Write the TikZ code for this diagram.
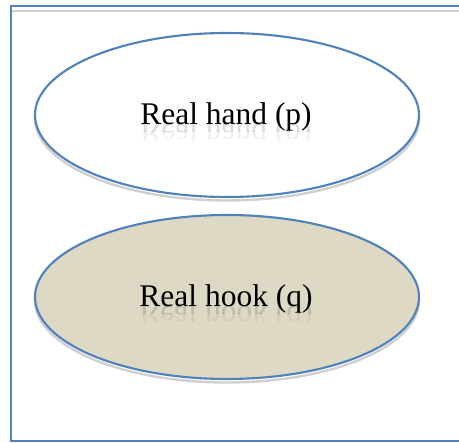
\documentclass[tikz,border=0pt]{standalone}
\usepackage{fontspec}
\setmainfont{Liberation Serif}
\definecolor{frameblue}{RGB}{79,129,189}
\definecolor{shadowgrey}{RGB}{208,208,208}
\definecolor{tanfill}{RGB}{221,217,196}
\tikzset{
  outline/.style={draw=frameblue, line width=2.1pt},
  dropshade/.style={draw=shadowgrey, line width=2.4pt},
  label/.style={font=\fontsize{31.5}{37}\selectfont, inner sep=0pt, anchor=base},
  mirror/.style={label, yscale=-1, text=black, text opacity=#1},
}
% faint reflection under a label: two bands whose opacity falls off downwards
\newcommand{\reflection}[2]{%
  \begin{scope}
    \clip ($(#1)+(-100,0)$) rectangle ($(#1)+(100,7)$);
    \node[mirror=0.13] at (#1) {#2};
  \end{scope}
  \begin{scope}
    \clip ($(#1)+(-100,7)$) rectangle ($(#1)+(100,15)$);
    \node[mirror=0.06] at (#1) {#2};
  \end{scope}}
\usetikzlibrary{calc}
\begin{document}
\begin{tikzpicture}[x=1pt, y=-1pt]
  \useasboundingbox (0,0) rectangle (459,443);
  \begin{scope}
    \clip (0,0) rectangle (459,443);
    % outer frame, open to the right
    \draw[shadowgrey, line width=1.8pt] (12,11) -- (470,11);
    \draw[outline] (470,6) -- (11,6) -- (11,441) -- (470,441);
  \end{scope}

  % first ellipse
  \draw[dropshade] (227,118.5) ellipse [x radius=192, y radius=82];
  \draw[outline, fill=white] (227,115) ellipse [x radius=192, y radius=82];
  \coordinate (pbase) at (226,125);
  \reflection{pbase}{Real hand (p)}
  \node[label] (phand) at (pbase) {Real hand (p)};

  % second ellipse
  \draw[dropshade] (227,300.5) ellipse [x radius=192, y radius=82];
  \draw[outline, fill=tanfill] (227,297) ellipse [x radius=192, y radius=82];
  \coordinate (qbase) at (226,307);
  \reflection{qbase}{Real hook (q)}
  \node[label] (qhook) at (qbase) {Real hook (q)};
\end{tikzpicture}
\end{document}
